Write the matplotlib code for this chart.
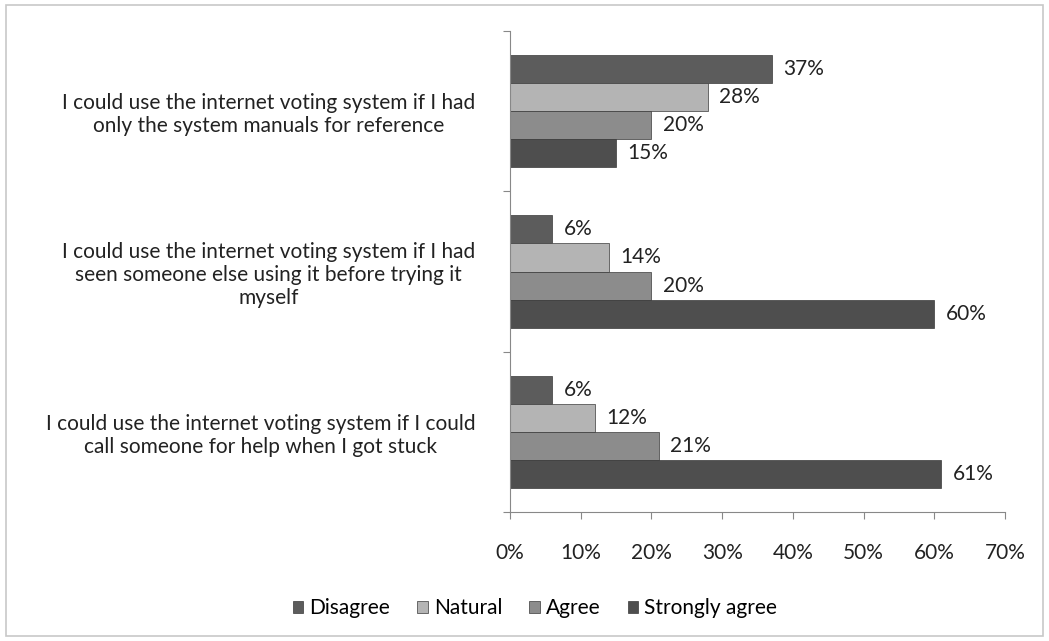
import matplotlib
matplotlib.use("Agg")
import matplotlib.pyplot as plt
import matplotlib.patches as patches
import numpy as np

plt.rcParams['font.family'] = ['Lato', 'DejaVu Sans']

questions = [
    "I could use the internet voting system if I had\nonly the system manuals for reference",
    "I could use the internet voting system if I had\nseen someone else using it before trying it\nmyself",
    "I could use the internet voting system if I could\ncall someone for help when I got stuck",
]
series = ["Disagree", "Natural", "Agree", "Strongly agree"]
disagree = [37, 6, 6]
natural = [28, 14, 12]
agree = [20, 20, 21]
strongly = [15, 60, 61]
colors = ['#5c5c5c', '#b4b4b4', '#8c8c8c', '#4e4e4e']

values = [disagree, natural, agree, strongly]
fs = 15

fig = plt.figure(figsize=(10.49, 6.41), dpi=100)
ax = fig.add_axes([0.4862, 0.2012, 0.4719, 0.7504])

ypos = np.arange(len(questions))[::-1]
h = 0.175
for i, (name, vals, c) in enumerate(zip(series, values, colors)):
    off = (1.5 - i) * h
    bars = ax.barh(ypos + off, vals, height=h, color=c, label=name,
                   edgecolor='#3a3a3a', linewidth=0.5)
    for b, v in zip(bars, vals):
        ax.text(v + 1.6, b.get_y() + h / 2, f"{v}%", va='center', ha='left',
                fontsize=fs, color='#222222')

ax.set_xlim(0, 70)
ax.set_ylim(-0.5, 2.5)
ax.set_xticks(np.arange(0, 71, 10))
ax.set_xticklabels([f"{t}%" for t in range(0, 71, 10)], fontsize=fs, color='#222222')
ax.set_yticks([-0.5, 0.5, 1.5, 2.5], minor=False)
ax.set_yticklabels([])
ax.set_yticks(ypos, minor=True)
ax.set_yticklabels(questions, minor=True, fontsize=fs, color='#222222', ha='right',
                   multialignment='center', linespacing=1.2)
ax.tick_params(axis='y', which='minor', length=0, pad=25)
ax.tick_params(axis='y', which='major', length=5, direction='out', color='#888888')
ax.tick_params(axis='x', length=5, direction='out', color='#888888', pad=17)
for s in ['top', 'right']:
    ax.spines[s].set_visible(False)
for s in ['left', 'bottom']:
    ax.spines[s].set_color('#888888')

ax.legend(loc='center', bbox_to_anchor=(0.5 * (0.27 + 0.75), 0.051),
          bbox_transform=fig.transFigure, ncol=4, frameon=False, fontsize=fs,
          handlelength=0.5, handleheight=0.5, handletextpad=0.3, columnspacing=1.3)

fig.add_artist(patches.Rectangle((0.006, 0.008), 0.988, 0.984, transform=fig.transFigure,
                                 fill=False, edgecolor='#c8c8c8', linewidth=1.2))

fig.savefig("out.png", dpi=100)
